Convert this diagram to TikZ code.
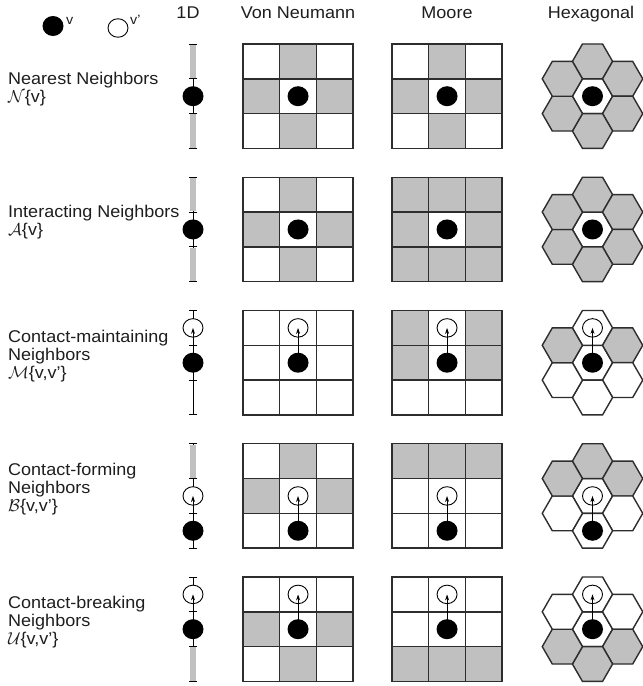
\documentclass[tikz,border=0pt]{standalone}
\usepackage{fontspec}
\setmainfont{Liberation Sans}[FakeStretch=1.06]
\usetikzlibrary{arrows.meta,shapes.geometric}

\definecolor{gridline}{RGB}{45,45,45}
\definecolor{nbgray}{RGB}{192,192,192}
\definecolor{inktext}{RGB}{30,30,30}

% lattice geometry (pt)
\def\cellw{36.7}
\def\cellh{34.8}
\def\hexs{20.1}
\def\hexh{17.4}
\def\onedx{193}

\tikzset{
  cell/.style={draw=gridline, line width=1.4pt, fill=white},
  ncell/.style={cell, fill=nbgray},
  vdot/.style={ellipse, fill=black, minimum width=21pt, minimum height=20pt, inner sep=0pt},
  vpdot/.style={ellipse, draw=black, line width=0.9pt, fill=white, minimum width=20pt, minimum height=18.5pt, inner sep=0pt},
  moveto/.style={-{Stealth[length=6pt,width=4pt]}, line width=0.9pt},
  axisline/.style={line width=0.9pt},
  tickmark/.style={line width=0.9pt},
  nbbar/.style={draw=nbgray, line width=6pt},
  header/.style={font=\fontsize{17}{20}\selectfont, text=inktext, anchor=base, inner sep=0pt},
  rowlabel/.style={font=\fontsize{17}{18.3}\selectfont, text=inktext, align=left, anchor=west, inner sep=0pt},
  leglabel/.style={font=\fontsize{13.5}{15}\selectfont, text=inktext, anchor=base west, inner sep=0pt},
}

% 3x3 square lattice of white cells, top-left corner at (#1,#2)
\newcommand\sqgrid[2]{%
  \foreach \c in {0,1,2}{\foreach \r in {0,1,2}{%
    \path[cell] ({#1+\c*\cellw},{#2+\r*\cellh}) rectangle ++(\cellw,\cellh);}}}
% shaded cells col/row of the lattice at (#1,#2)
\newcommand\graycells[3]{%
  \foreach \c/\r in {#3}{%
    \path[ncell] ({#1+\c*\cellw},{#2+\r*\cellh}) rectangle ++(\cellw,\cellh);}}
% flat-topped hexagon centred at (#1,#2) with style #3
\newcommand\hexcell[3]{%
  \path[#3, shift={(#1,#2)}] (0:\hexs) -- (60:\hexs) -- (120:\hexs) -- (180:\hexs)
    -- (240:\hexs) -- (300:\hexs) -- cycle;}
% hexagon flower: centre, top, upper right, lower right, bottom, lower left, upper left
\newcommand\hexflower[9]{%
  \hexcell{#1}{#2}{#3}%
  \hexcell{#1}{#2-2*\hexh}{#4}%
  \hexcell{#1+1.5*\hexs}{#2-\hexh}{#5}%
  \hexcell{#1+1.5*\hexs}{#2+\hexh}{#6}%
  \hexcell{#1}{#2+2*\hexh}{#7}%
  \hexcell{#1-1.5*\hexs}{#2+\hexh}{#8}%
  \hexcell{#1-1.5*\hexs}{#2-\hexh}{#9}}
% 1D chain of three cells from #1; shaded cells listed in #2
\newcommand\onedchain[2]{%
  \draw[axisline] (\onedx,#1) -- (\onedx,{#1+3*\cellh});
  \foreach \k in {#2}{%
    \draw[nbbar] (\onedx,{#1+\k*\cellh+0.8}) -- (\onedx,{#1+(\k+1)*\cellh-0.8});}
  \foreach \k in {0,1,2,3}{%
    \draw[tickmark] (\onedx-4,{#1+\k*\cellh}) -- (\onedx+4,{#1+\k*\cellh});}}

\begin{document}
\begin{tikzpicture}[x=1pt,y=-1pt]
\useasboundingbox (0,0) rectangle (643,686);

% column headers
\node[header] (h1d)  at (188,18) {1D};
\node[header] (hvn)  at (298,18) {Von Neumann};
\node[header] (hmo)  at (447,18) {Moore};
\node[header] (hhex) at (591,18) {Hexagonal};

% legend
\node[vdot]  (legv)  at (53,26) {};
\node[leglabel] (legvl) at (66,24) {v};
\node[vpdot] (legvp) at (118,28) {};
\node[leglabel] (legvpl) at (130,24) {v'};

% row labels
\node[rowlabel] (lab1) at (8,89)  {Nearest Neighbors\\$\mathcal{N}$\{v\}};
\node[rowlabel] (lab2) at (8,222) {Interacting Neighbors\\$\mathcal{A}$\{v\}};
\node[rowlabel] (lab3) at (8,356) {Contact-maintaining\\Neighbors\\$\mathcal{M}$\{v,v'\}};
\node[rowlabel] (lab4) at (8,489) {Contact-forming\\Neighbors\\$\mathcal{B}$\{v,v'\}};
\node[rowlabel] (lab5) at (8,622) {Contact-breaking\\Neighbors\\$\mathcal{U}$\{v,v'\}};

% ---------- row 1: nearest neighbours ----------
\onedchain{44}{0,2}
\node[vdot] (v1a) at (\onedx,{44+1.5*\cellh}) {};
\sqgrid{243}{44}
\graycells{243}{44}{1/0,0/1,2/1,1/2}
\node[vdot] (v1b) at ({243+1.5*\cellw},{44+1.5*\cellh}) {};
\sqgrid{392}{44}
\graycells{392}{44}{1/0,0/1,2/1,1/2}
\node[vdot] (v1c) at ({392+1.5*\cellw},{44+1.5*\cellh}) {};
\hexflower{592.5}{96.2}{cell}{ncell}{ncell}{ncell}{ncell}{ncell}{ncell}
\node[vdot] (v1d) at (592.5,96.2) {};

% ---------- row 2: interacting neighbours ----------
\onedchain{177.25}{0,2}
\node[vdot] (v2a) at (\onedx,{177.25+1.5*\cellh}) {};
\sqgrid{243}{177.25}
\graycells{243}{177.25}{1/0,0/1,2/1,1/2}
\node[vdot] (v2b) at ({243+1.5*\cellw},{177.25+1.5*\cellh}) {};
\sqgrid{392}{177.25}
\graycells{392}{177.25}{0/0,1/0,2/0,0/1,2/1,0/2,1/2,2/2}
\node[vdot] (v2c) at ({392+1.5*\cellw},{177.25+1.5*\cellh}) {};
\hexflower{592.5}{229.45}{cell}{ncell}{ncell}{ncell}{ncell}{ncell}{ncell}
\node[vdot] (v2d) at (592.5,229.45) {};

% ---------- row 3: contact-maintaining neighbours ----------
\onedchain{310.5}{}
\node[vdot]  (v3a)  at (\onedx,{310.5+1.5*\cellh}) {};
\node[vpdot] (vp3a) at (\onedx,{310.5+0.5*\cellh}) {};
\draw[moveto] (v3a.center) -- (vp3a.center);
\sqgrid{243}{310.5}
\node[vdot]  (v3b)  at ({243+1.5*\cellw},{310.5+1.5*\cellh}) {};
\node[vpdot] (vp3b) at ({243+1.5*\cellw},{310.5+0.5*\cellh}) {};
\draw[moveto] (v3b.center) -- (vp3b.center);
\sqgrid{392}{310.5}
\graycells{392}{310.5}{0/0,2/0,0/1,2/1}
\node[vdot]  (v3c)  at ({392+1.5*\cellw},{310.5+1.5*\cellh}) {};
\node[vpdot] (vp3c) at ({392+1.5*\cellw},{310.5+0.5*\cellh}) {};
\draw[moveto] (v3c.center) -- (vp3c.center);
\hexflower{592.5}{362.7}{cell}{cell}{ncell}{cell}{cell}{cell}{ncell}
\node[vdot]  (v3d)  at (592.5,362.7) {};
\node[vpdot] (vp3d) at (592.5,{362.7-2*\hexh}) {};
\draw[moveto] (v3d.center) -- (vp3d.center);

% ---------- row 4: contact-forming neighbours ----------
\onedchain{443.75}{0}
\node[vdot]  (v4a)  at (\onedx,{443.75+2.5*\cellh}) {};
\node[vpdot] (vp4a) at (\onedx,{443.75+1.5*\cellh}) {};
\draw[moveto] (v4a.center) -- (vp4a.center);
\sqgrid{243}{443.75}
\graycells{243}{443.75}{1/0,0/1,2/1}
\node[vdot]  (v4b)  at ({243+1.5*\cellw},{443.75+2.5*\cellh}) {};
\node[vpdot] (vp4b) at ({243+1.5*\cellw},{443.75+1.5*\cellh}) {};
\draw[moveto] (v4b.center) -- (vp4b.center);
\sqgrid{392}{443.75}
\graycells{392}{443.75}{0/0,1/0,2/0}
\node[vdot]  (v4c)  at ({392+1.5*\cellw},{443.75+2.5*\cellh}) {};
\node[vpdot] (vp4c) at ({392+1.5*\cellw},{443.75+1.5*\cellh}) {};
\draw[moveto] (v4c.center) -- (vp4c.center);
\hexflower{592.5}{495.95}{cell}{ncell}{ncell}{cell}{cell}{cell}{ncell}
\node[vdot]  (v4d)  at (592.5,{495.95+2*\hexh}) {};
\node[vpdot] (vp4d) at (592.5,495.95) {};
\draw[moveto] (v4d.center) -- (vp4d.center);

% ---------- row 5: contact-breaking neighbours ----------
\onedchain{577}{2}
\node[vdot]  (v5a)  at (\onedx,{577+1.5*\cellh}) {};
\node[vpdot] (vp5a) at (\onedx,{577+0.5*\cellh}) {};
\draw[moveto] (v5a.center) -- (vp5a.center);
\sqgrid{243}{577}
\graycells{243}{577}{0/1,2/1,1/2}
\node[vdot]  (v5b)  at ({243+1.5*\cellw},{577+1.5*\cellh}) {};
\node[vpdot] (vp5b) at ({243+1.5*\cellw},{577+0.5*\cellh}) {};
\draw[moveto] (v5b.center) -- (vp5b.center);
\sqgrid{392}{577}
\graycells{392}{577}{0/2,1/2,2/2}
\node[vdot]  (v5c)  at ({392+1.5*\cellw},{577+1.5*\cellh}) {};
\node[vpdot] (vp5c) at ({392+1.5*\cellw},{577+0.5*\cellh}) {};
\draw[moveto] (v5c.center) -- (vp5c.center);
\hexflower{592.5}{629.2}{cell}{cell}{cell}{ncell}{ncell}{ncell}{cell}
\node[vdot]  (v5d)  at (592.5,629.2) {};
\node[vpdot] (vp5d) at (592.5,{629.2-2*\hexh}) {};
\draw[moveto] (v5d.center) -- (vp5d.center);
\end{tikzpicture}
\end{document}
